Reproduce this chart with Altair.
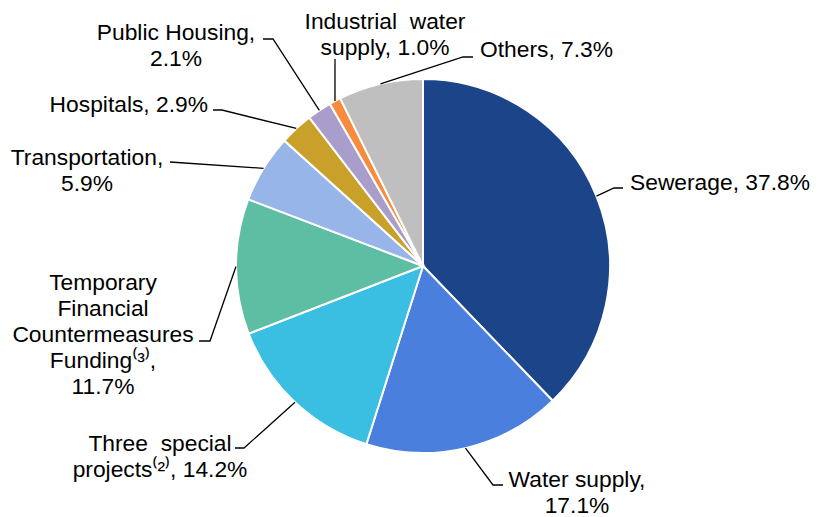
import math
import altair as alt
import pandas as pd

# ---- data ----
categories = ["Sewerage", "Water supply", "Three special projects",
              "Temporary Financial Countermeasures Funding", "Transportation",
              "Hospitals", "Public Housing", "Industrial water supply", "Others"]
shares = [37.8, 17.1, 14.2, 11.7, 5.9, 2.9, 2.1, 1.0, 7.3]
label_texts = [
    "Sewerage, 37.8%",
    "Water supply,\n17.1%",
    "Three\u00a0 special\nprojects\u207d\u00b2\u207e, 14.2%",
    "Temporary\nFinancial\nCountermeasures\nFunding\u207d\u00b3\u207e,\n11.7%",
    "Transportation,\n5.9%",
    "Hospitals, 2.9%",
    "Public Housing,\n2.1%",
    "Industrial\u00a0 water\nsupply, 1.0%",
    "Others, 7.3%",
]

# ---- styles / layout ----
colors = ["#1C4489", "#4A7FDD", "#3ABEE2", "#5DBEA4", "#97B5E9",
          "#C9A12A", "#A99DCB", "#F98B3C", "#BFBFBF"]
W, H = 803, 509
CX, CY, R = 423, 266, 187          # pie centre and radius (page pixels)
# label anchor (x, baseline y, align) and leader-line elbow points
label_layout = {
    "Sewerage": ((630, 190, "left"), [(614, 188), (623, 188)]),
    "Water supply": ((577, 487, "center"), [(493, 485), (503, 485)]),
    "Three special projects": ((160, 451, "center"), [(244, 448), (235, 448)]),
    "Temporary Financial Countermeasures Funding": ((103, 290, "center"), [(210, 341), (199, 341)]),
    "Transportation": ((87, 165, "center"), [(170, 162)]),
    "Hospitals": ((208, 112, "right"), [(222, 110), (213, 110)]),
    "Public Housing": ((176, 40, "center"), [(273, 39), (263, 39)]),
    "Industrial water supply": ((385, 29, "center"), [(335, 59)]),
    "Others": ((480, 57, "left"), [(463, 57), (473, 57)]),
}

pie_df = pd.DataFrame({"cat": categories, "share": shares, "idx": list(range(len(categories)))})

# leader lines start at the pie edge at each slice's mid angle
line_rows, text_rows = [], []
cum = 0.0
total = sum(shares)
for i, (c, v) in enumerate(zip(categories, shares)):
    mid = (cum + v / 2) / total * 2 * math.pi
    cum += v
    ex, ey = CX + R * math.sin(mid), CY - R * math.cos(mid)
    (tx, ty, al), pts = label_layout[c]
    line_rows.append({"cat": c, "o": 0, "x": ex, "y": ey})
    for k, (px, py) in enumerate(pts):
        line_rows.append({"cat": c, "o": k + 1, "x": px, "y": py})
    text_rows.append({"cat": c, "label": label_texts[i], "x": tx, "y": ty, "align": al})
lines_df = pd.DataFrame(line_rows)
text_df = pd.DataFrame(text_rows)

xs = alt.Scale(domain=[8, 8 + W])
ys = alt.Scale(domain=[8, 8 + H], reverse=True)

pie = alt.Chart(pie_df).mark_arc(outerRadius=R, stroke="white", strokeWidth=2).encode(
    theta=alt.Theta("share:Q", stack=True),
    order=alt.Order("idx:Q"),
    color=alt.Color("cat:N", scale=alt.Scale(domain=categories, range=colors), legend=None),
    x=alt.value(CX - 8),
    y=alt.value(CY - 8),
)

leaders = alt.Chart(lines_df).mark_line(color="black", strokeWidth=1.3).encode(
    x=alt.X("x:Q", scale=xs, axis=None),
    y=alt.Y("y:Q", scale=ys, axis=None),
    detail="cat:N",
    order="o:Q",
)

def text_layer(al):
    return alt.Chart(text_df).transform_filter(alt.datum.align == al).mark_text(
        align=al, baseline="alphabetic", font="Liberation Sans", fontSize=22.8,
        lineHeight=26, lineBreak="\n", color="black",
    ).encode(
        x=alt.X("x:Q", scale=xs, axis=None),
        y=alt.Y("y:Q", scale=ys, axis=None),
        text="label:N",
    )

chart = alt.layer(pie, leaders, text_layer("left"), text_layer("center"), text_layer("right")).properties(
    width=W, height=H, padding=0, autosize=alt.AutoSizeParams(type="none"),
).configure_view(stroke=None)

chart.save("out.html", embed_options={"renderer": "svg", "actions": False})
